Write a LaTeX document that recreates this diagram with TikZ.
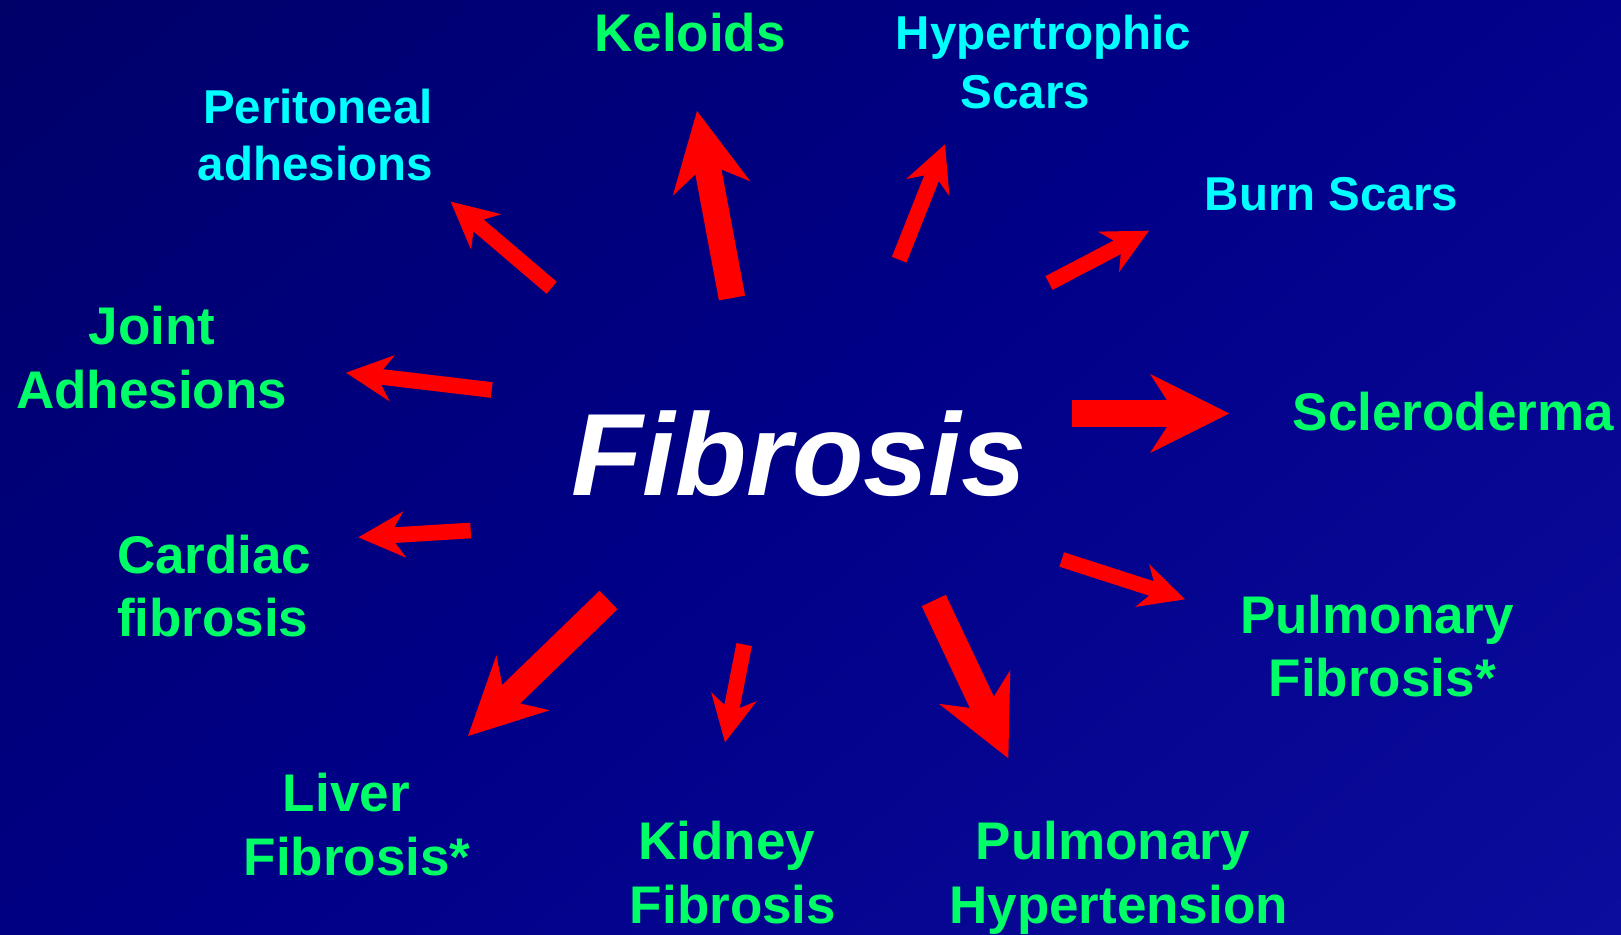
\documentclass[tikz,border=0pt]{standalone}
\usepackage{fontspec}
\setmainfont{Liberation Sans}
\usetikzlibrary{calc}
\definecolor{bgTL}{RGB}{0,0,92}
\definecolor{bgMid}{RGB}{0,0,136}
\definecolor{bgBR}{RGB}{18,18,166}
\definecolor{arrowred}{RGB}{255,0,0}
\definecolor{labgreen}{RGB}{0,255,102}
\definecolor{labcyan}{RGB}{0,255,255}
\pgfdeclareverticalshading{bgshade}{100bp}{color(0bp)=(bgBR); color(50bp)=(bgMid); color(100bp)=(bgTL)}
\newcommand\fatarrow[3]{%
  \pgfmathsetmacro\faw{13.3*#3}%
  \pgfmathsetmacro\fah{39.5*#3}%
  \pgfmathsetmacro\fal{79*#3}%
  \pgfmathsetmacro\faj{62*#3}%
  \coordinate (#1-j) at ($(#2)!\faj pt!(#1)$);
  \coordinate (#1-h) at ($(#2)!\fal pt!(#1)$);
  \fill[arrowred] ($(#1)!\faw pt!90:(#2)$) -- ($(#1-j)!\faw pt!-90:(#1)$) -- ($(#1-h)!\fah pt!-90:(#1)$) -- (#2) -- ($(#1-h)!\fah pt!90:(#1)$) -- ($(#1-j)!\faw pt!90:(#1)$) -- ($(#1)!\faw pt!-90:(#2)$) -- cycle;
}
\tikzset{
  greentxt/.style={inner sep=0pt, anchor=base, text=labgreen, font=\fontsize{53}{63}\selectfont\bfseries},
  cyantxt/.style={inner sep=0pt, anchor=base, text=labcyan, font=\fontsize{47.5}{57}\selectfont\bfseries},
  titletxt/.style={inner sep=0pt, anchor=base, text=white, font=\fontsize{117}{130}\selectfont\bfseries\itshape}
}
\begin{document}
\begin{tikzpicture}[x=1pt,y=-1pt]
\useasboundingbox (0,0) rectangle (1621,934);
\shade[shading=bgshade, shading angle=40] (0,0) rectangle (1621,934);

% title
\node[titletxt] (fib) at (798.6,495) {Fibrosis};

% labels
\node[greentxt] (kel) at (690.1,52) {Keloids};
\node[cyantxt] (hyp1) at (1043.6,49.5) {Hypertrophic};
\node[cyantxt] (hyp2) at (1025.5,108.5) {Scars};
\node[cyantxt, anchor=base east] (per1) at (433,123.5) {Peritoneal};
\node[cyantxt, anchor=base east] (per2) at (433,180.5) {adhesions};
\node[cyantxt] (burn) at (1331.5,210) {Burn Scars};
\node[greentxt] (joi1) at (152,344.5) {Joint};
\node[greentxt] (joi2) at (151.5,408.5) {Adhesions};
\node[greentxt] (scl) at (1453.5,430) {Scleroderma};
\node[greentxt, anchor=base west] (car1) at (116.8,573.5) {Cardiac};
\node[greentxt, anchor=base west] (car2) at (116.8,636.5) {fibrosis};
\node[greentxt] (pf1) at (1377,633.5) {Pulmonary};
\node[greentxt] (pf2) at (1382.2,696.5) {Fibrosis*};
\node[greentxt] (liv1) at (346.3,811.5) {Liver};
\node[greentxt] (liv2) at (357.2,875.5) {Fibrosis*};
\node[greentxt] (kid1) at (726.8,859) {Kidney};
\node[greentxt] (kid2) at (733,923) {Fibrosis};
\node[greentxt] (ph1) at (1112.9,859) {Pulmonary};
\node[greentxt] (ph2) at (1118.6,923) {Hypertension};

% arrow end points
\coordinate (aPerA) at (551.7,287.8);  \coordinate (aPerB) at (450.7,201.7);
\coordinate (aKelA) at (732,298);      \coordinate (aKelB) at (697,111);
\coordinate (aHypA) at (899.2,259.7);  \coordinate (aHypB) at (945,144.3);
\coordinate (aBurA) at (1049,283);     \coordinate (aBurB) at (1149,230.7);
\coordinate (aJoiA) at (491.7,390);    \coordinate (aJoiB) at (346,372.7);
\coordinate (aSclA) at (1072,413.5);   \coordinate (aSclB) at (1229,413.5);
\coordinate (aCarA) at (470.7,530.5);  \coordinate (aCarB) at (358.3,537.3);
\coordinate (aPfA) at (1061.7,559.5);  \coordinate (aPfB) at (1185,599.3);
\coordinate (aLivA) at (608.5,600);    \coordinate (aLivB) at (468,736);
\coordinate (aKidA) at (744.2,644.5);  \coordinate (aKidB) at (725,742.3);
\coordinate (aPhA) at (933.7,600.5);   \coordinate (aPhB) at (1008.3,758.3);

\fatarrow{aPerA}{aPerB}{0.59}
\fatarrow{aKelA}{aKelB}{1}
\fatarrow{aHypA}{aHypB}{0.59}
\fatarrow{aBurA}{aBurB}{0.58}
\fatarrow{aJoiA}{aJoiB}{0.59}
\fatarrow{aSclA}{aSclB}{1}
\fatarrow{aCarA}{aCarB}{0.59}
\fatarrow{aPfA}{aPfB}{0.57}
\fatarrow{aLivA}{aLivB}{0.97}
\fatarrow{aKidA}{aKidB}{0.59}
\fatarrow{aPhA}{aPhB}{1}
\end{tikzpicture}
\end{document}
